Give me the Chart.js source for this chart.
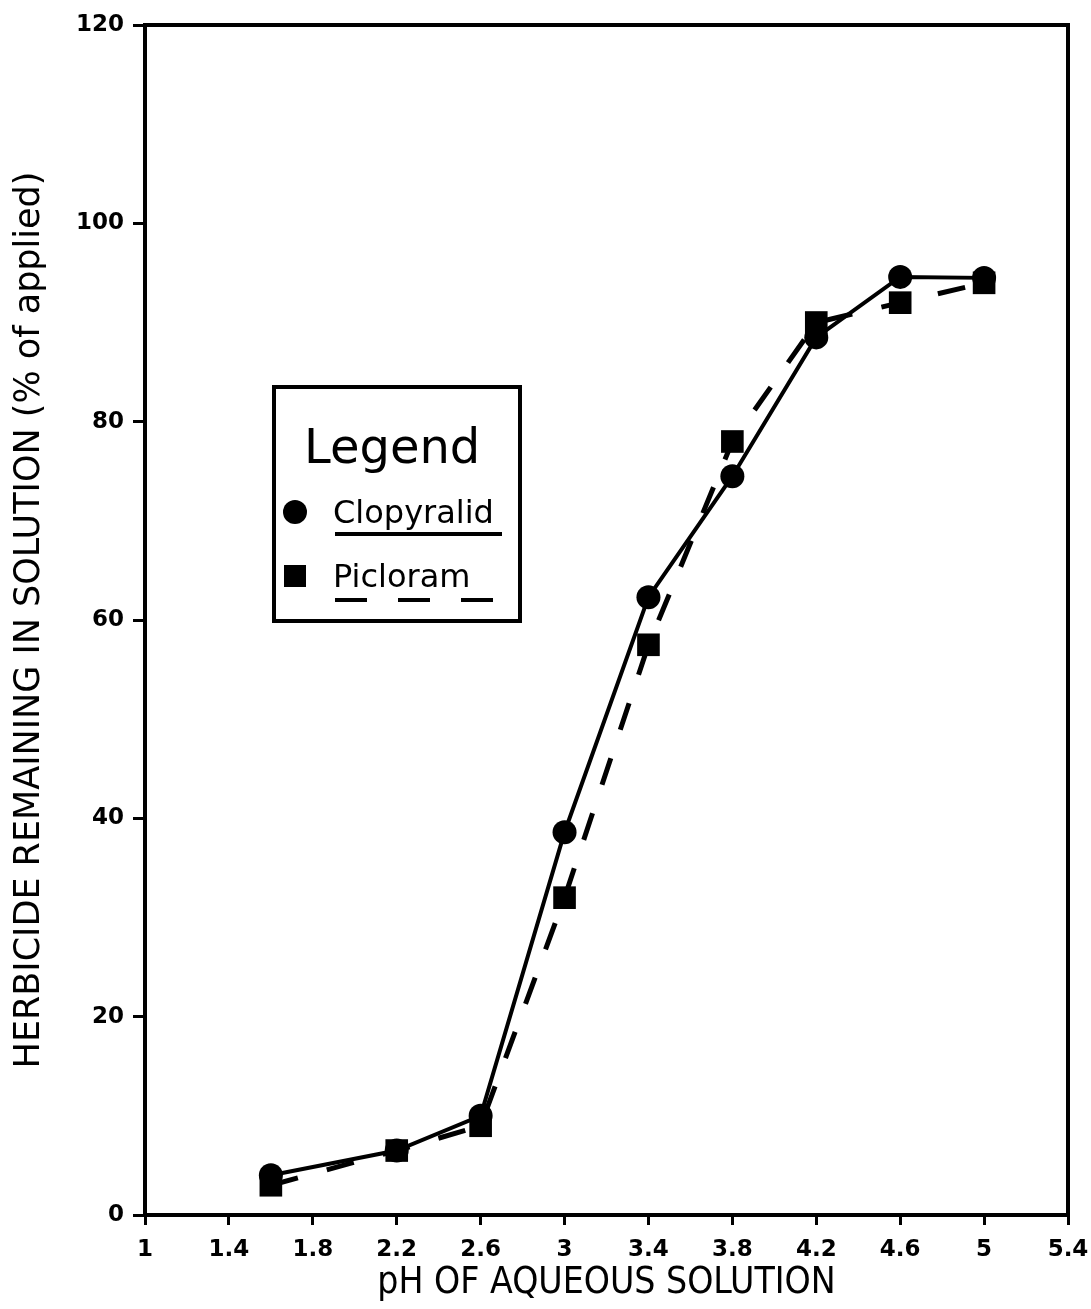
<!DOCTYPE html>
<html>
<head>
<meta charset="utf-8">
<script src="https://cdn.jsdelivr.net/npm/chart.js@4/dist/chart.umd.min.js"></script>
<style>
  html, body { margin: 0; padding: 0; background: #fff; }
  #wrap { width: 1091px; height: 1309px; }
</style>
</head>
<body>
<div id="wrap"><canvas id="phChart" width="1091" height="1309"></canvas></div>
<script>
// pH of the solution at each measurement
const phValues = [1.6, 2.2, 2.6, 3.0, 3.4, 3.8, 4.2, 4.6, 5.0];
// % of applied herbicide remaining in solution
const clopyralid = [4, 6.5, 10, 38.6, 62.3, 74.5, 88.5, 94.6, 94.5];
const picloram = [3, 6.5, 9, 32, 57.5, 78, 90, 92, 94];
const xTicks = [1, 1.4, 1.8, 2.2, 2.6, 3, 3.4, 3.8, 4.2, 4.6, 5, 5.4];
const yTicks = [0, 20, 40, 60, 80, 100, 120];

const toPoints = (vals) => phValues.map((x, i) => ({ x: x, y: vals[i] }));

// box round the plot area plus the hand-drawn legend
const framePlugin = {
    id: 'frame',
    afterDraw(chart) {
        const ctx = chart.ctx;
        const a = chart.chartArea;
        ctx.save();
        ctx.strokeStyle = '#000';
        ctx.lineWidth = 4;
        ctx.strokeRect(a.left, a.top, a.right - a.left, a.bottom - a.top);

        // legend box
        ctx.strokeRect(274, 387, 246, 234);
        ctx.fillStyle = '#000';
        ctx.textBaseline = 'alphabetic';
        ctx.font = '48px "DejaVu Sans"';
        ctx.fillText('Legend', 304, 463);

        ctx.font = '32px "DejaVu Sans"';
        ctx.beginPath();
        ctx.arc(295, 512, 12, 0, Math.PI * 2);
        ctx.fill();
        ctx.fillText('Clopyralid', 333, 523);
        ctx.beginPath();
        ctx.moveTo(335, 534);
        ctx.lineTo(502, 534);
        ctx.stroke();

        ctx.fillRect(284, 565, 22, 22);
        ctx.fillText('Picloram', 333, 587);
        ctx.setLineDash([32, 31]);
        ctx.beginPath();
        ctx.moveTo(335, 600);
        ctx.lineTo(495, 600);
        ctx.stroke();
        ctx.restore();
    }
};

const ctx = document.getElementById('phChart').getContext('2d');
new Chart(ctx, {
    type: 'scatter',
    data: {
        datasets: [
            {
                label: 'Clopyralid',
                data: toPoints(clopyralid),
                showLine: true,
                borderColor: '#000',
                backgroundColor: '#000',
                borderWidth: 4,
                pointStyle: 'circle',
                pointRadius: 12,
                pointBorderWidth: 0
            },
            {
                label: 'Picloram',
                data: toPoints(picloram),
                showLine: true,
                borderColor: '#000',
                backgroundColor: '#000',
                borderWidth: 5,
                borderDash: [28, 30],
                pointStyle: 'rect',
                pointRadius: 16,
                pointBorderWidth: 0
            }
        ]
    },
    options: {
        responsive: false,
        animation: false,
        layout: { padding: { top: 25, right: 23, left: 0, bottom: 0 } },
        plugins: {
            legend: { display: false },
            tooltip: { enabled: false }
        },
        scales: {
            x: {
                type: 'linear',
                min: 1,
                max: 5.4,
                afterFit: (scale) => {
                    scale.height = 94;
                    scale.paddingRight = 0;
                    scale.paddingLeft = 0;
                },
                afterBuildTicks: (scale) => { scale.ticks = xTicks.map(v => ({ value: v })); },
                grid: { drawOnChartArea: false, drawTicks: true, tickLength: 10, tickWidth: 3, color: '#000' },
                border: { display: true, color: '#000', width: 4 },
                ticks: {
                    color: '#000',
                    padding: 11,
                    maxRotation: 0,
                    autoSkip: false,
                    font: { family: '"DejaVu Sans"', size: 23, weight: 'bold' },
                    callback: (v) => String(v)
                },
                title: {
                    display: true,
                    text: 'pH OF AQUEOUS SOLUTION',
                    color: '#000',
                    font: { family: '"DejaVu Sans Condensed"', size: 37 },
                    padding: { top: 0, bottom: 3 }
                }
            },
            y: {
                min: 0,
                max: 120,
                afterFit: (scale) => { scale.width = 145; },
                afterBuildTicks: (scale) => { scale.ticks = yTicks.map(v => ({ value: v })); },
                grid: { drawOnChartArea: false, drawTicks: true, tickLength: 12, tickWidth: 3, color: '#000' },
                border: { display: true, color: '#000', width: 4 },
                ticks: {
                    color: '#000',
                    padding: 9,
                    font: { family: '"DejaVu Sans"', size: 23, weight: 'bold' }
                },
                title: {
                    display: true,
                    text: 'HERBICIDE REMAINING IN SOLUTION (% of applied)',
                    color: '#000',
                    font: { family: '"DejaVu Sans"', size: 35 },
                    padding: { top: 9, bottom: 0 }
                }
            }
        }
    },
    plugins: [framePlugin]
});
</script>
</body>
</html>
